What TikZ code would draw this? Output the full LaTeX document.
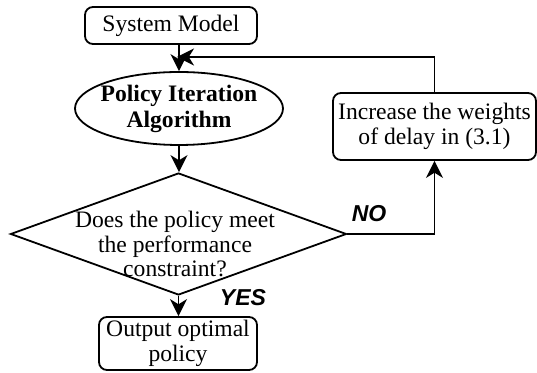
\documentclass[tikz,border=0pt]{standalone}
\usepackage{fontspec}
\setmainfont{Liberation Serif}
\newfontfamily\labelfont{Liberation Sans}
\usetikzlibrary{shapes.geometric,arrows.meta}
\begin{document}
\begin{tikzpicture}[x=0.5pt,y=-0.5pt,
  every node/.style={font=\fontsize{11.8}{12.4}\selectfont, align=center, inner sep=0pt},
  rbox/.style={draw, line width=0.9pt, rounded corners=4pt},
  shp/.style={draw, line width=0.9pt},
  arr/.style={-{Stealth[length=8.5pt,width=8.5pt,inset=2.6pt]}, line width=0.9pt},
  ln/.style={line width=0.9pt},
  yn/.style={font=\fontsize{11.5}{12}\selectfont\labelfont\bfseries\itshape}]
\useasboundingbox (0,0) rectangle (537,373);
% nodes
\node[rbox, minimum width=86pt, minimum height=18.5pt] (sys) at (171,25.5) {System Model};
\node[shp, ellipse, minimum width=104pt, minimum height=36.5pt] (ell) at (179,108.5) {};
\node[font=\fontsize{11.8}{13.2}\selectfont\bfseries] (elltxt) at (179,109) {Policy Iteration\\Algorithm};
\node[shp, diamond, minimum width=168pt, minimum height=61pt] (dia) at (178.5,234) {};
\node (diatxt) at (175,244) {Does the policy meet\\the performance\\constraint?};
\node[rbox, minimum width=101.5pt, minimum height=33.5pt] (inc) at (434.5,126.5) {Increase the weights\\of delay in (3.1)};
\node[rbox, minimum width=79pt, minimum height=26.5pt] (out) at (178,343.5) {Output optimal\\policy};
\node[yn] (no) at (369,214) {NO};
\node[yn] (yes) at (243,298) {YES};
\coordinate (fb) at (177,57);
% connectors
\draw[arr] (ell.north |- sys.south) -- (ell.north);
\draw[arr] (inc.north) |- (fb);
\draw[arr] (ell.south) -- (ell.south |- dia.north);
\draw[arr] (dia.east) -| (inc.south);
\draw[arr] (dia.south) -- (dia.south |- out.north);
\end{tikzpicture}
\end{document}
